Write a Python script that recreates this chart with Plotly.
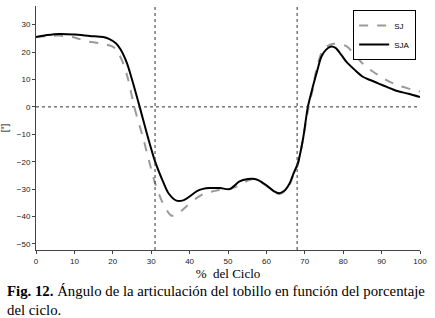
import plotly.graph_objects as go

# SJA (black solid)
sja_x = [0, 3, 6, 10, 14, 17.5, 19, 20.8, 22, 23.7, 25, 27, 29.2, 31, 33, 34.5, 36.6, 38.5, 40, 41.8,
         43.5, 45.2, 48, 50.4, 53, 55.2, 56.5, 58, 60, 62, 63.3, 64.5, 66, 67, 68.2, 69.5, 70.8, 72.1,
         73.2, 74.3, 75.5, 76.9, 78, 79.5, 80.8, 83, 85.1, 87, 89.4, 91.5, 93.8, 97, 100]
sja_y = [25.5, 26.2, 26.6, 26.4, 25.9, 25.5, 24.8, 23.2, 21, 15.9, 10, 0, -11.4, -19.9, -27, -31.5,
         -34.2, -34, -32.7, -30.8, -29.9, -29.6, -29.6, -30, -27.2, -26.3, -26.2, -26.8, -28.6, -30.8,
         -31.5, -30.8, -28, -24.5, -20.5, -12, 0, 7.4, 13, 18.3, 20.8, 22, 21.5, 19, 16.5, 13.5, 11,
         9.8, 8.4, 7.2, 5.9, 4.8, 3.6]

# SJ (gray dashed)
sj_x = [0, 3, 6, 10, 13, 16.6, 20, 21.5, 22.7, 24, 25.6, 27.9, 29.5, 31, 33, 35.3, 37, 39, 41.8, 44,
        46.1, 48, 50.4, 53, 55, 56.5, 58, 60, 62, 63.3, 64.5, 66, 67, 68.2, 69.5, 71, 72, 73, 74.7,
        76, 77.5, 79, 81, 83.4, 85.5, 87.7, 90, 92, 95, 97.5, 100]
sj_y = [25.5, 25.8, 26, 25.3, 24, 23.2, 22, 19.5, 15.9, 10, 0, -11.4, -20, -27.8, -35, -39.7, -39,
        -36.5, -33.3, -31.5, -30.8, -30.2, -30, -28.5, -27, -26.3, -27, -28.8, -31, -31.8, -31, -28.5,
        -25, -21, -12, 0, 6, 13.5, 20.8, 22.3, 23, 23, 22, 18.3, 15.2, 12.9, 10.8, 9.2, 7.5, 6.5, 5.6]

x_ticks = [0, 10, 20, 30, 40, 50, 60, 70, 80, 90, 100]
y_ticks = [-50, -40, -30, -20, -10, 0, 10, 20, 30]
phase_lines = [31, 68]

fig = go.Figure()
fig.add_trace(go.Scatter(x=sj_x, y=sj_y, name="SJ", mode="lines",
                         line=dict(color="#9a9a9a", width=2, dash="dash", shape="spline", smoothing=0.8)))
fig.add_trace(go.Scatter(x=sja_x, y=sja_y, name="SJA", mode="lines",
                         line=dict(color="#000000", width=2, shape="spline", smoothing=0.8)))

for p in phase_lines:
    fig.add_shape(type="line", xref="x", yref="paper", x0=p, x1=p, y0=0, y1=1,
                  line=dict(color="#333", width=1, dash="dot"))
fig.add_shape(type="line", xref="paper", yref="y", x0=0, x1=1, y0=0, y1=0,
              line=dict(color="#333", width=1, dash="dot"))

tickfont = dict(family="Liberation Sans Narrow, Arial Narrow, Liberation Sans, Arial", size=8, color="#222")
fig.update_xaxes(range=[0, 100], tickvals=x_ticks, showgrid=False, zeroline=False,
                 showline=True, linecolor="#444", linewidth=1, ticks="outside", ticklen=3,
                 tickcolor="#444", tickfont=tickfont,
                 title=dict(text="%  del Ciclo", standoff=0,
                            font=dict(family="Liberation Serif, Times New Roman", size=13, color="#000")))
fig.update_yaxes(range=[-52.2, 36.8], tickvals=y_ticks, showgrid=False, zeroline=False,
                 showline=True, linecolor="#444", linewidth=1, ticks="outside", ticklen=3,
                 tickcolor="#444", tickfont=tickfont,
                 title=dict(text="[°]", standoff=6,
                            font=dict(family="Liberation Sans, Arial", size=9, color="#000")))

fig.add_annotation(xref="paper", yref="paper", x=-0.081, y=-0.128, xanchor="left", yanchor="top",
                   showarrow=False, align="left",
                   text="<b>Fig. 12.</b> Ángulo de la articulación del tobillo en función del porcentaje<br>del ciclo.",
                   font=dict(family="Liberation Serif, Times New Roman", size=14.8, color="#000"))

fig.update_layout(
    width=435, height=318,
    margin=dict(l=36, r=15, t=6, b=68),
    plot_bgcolor="white", paper_bgcolor="white",
    showlegend=True,
    legend=dict(x=0.99, y=0.984, xanchor="right", yanchor="top",
                bordercolor="#000", borderwidth=1, bgcolor="white",
                font=dict(family="Liberation Sans, Arial", size=8, color="#000"),
                itemwidth=30, tracegroupgap=0),
)

fig.write_html("out.html", config={"displayModeBar": False},
               post_script="document.body.style.margin='0';")
